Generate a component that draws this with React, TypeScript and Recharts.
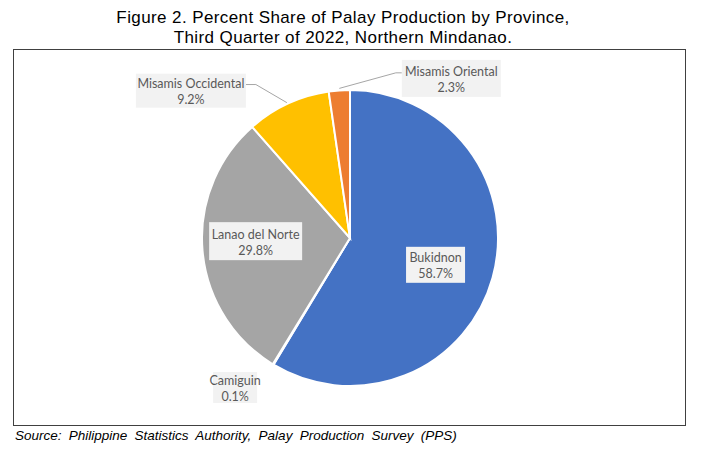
import React from "react";
import { PieChart, Pie, Cell } from "recharts";

const provinces = ["Bukidnon", "Camiguin", "Lanao del Norte", "Misamis Occidental", "Misamis Oriental"];
const shares = [58.7, 0.1, 29.8, 9.2, 2.3];
const sliceColors = ["#4472C4", "#ED7D31", "#A5A5A5", "#FFC000", "#ED7D31"];

const titleLines = [
  "Figure 2. Percent Share of Palay Production by Province,",
  "Third Quarter of 2022, Northern Mindanao.",
];
const sourceText = "Source: Philippine Statistics Authority, Palay Production Survey (PPS)";

const data = provinces.map((name, i) => ({ name, value: shares[i] }));

const RADIAN = Math.PI / 180;

// label placement: k = radial fraction, dx/dy offset, w/h box size, leader side
const placement = [
  { k: 0.6, dx: 0, dy: 3, w: 59, h: 36, leader: null },
  { k: 1.0, dx: -38, dy: 23, w: 44, h: 31, leader: null },
  { k: 0.64, dx: 0, dy: -5, w: 93, h: 38, leader: null },
  { k: 1.0, dx: -97, dy: -13, w: 110, h: 34, leader: "right" },
  { k: 1.0, dx: 112, dy: -12, w: 99, h: 37, leader: "left" },
];

const renderLabel = (props: any) => {
  const { cx, cy, midAngle, outerRadius, index } = props;
  const p = placement[index];
  const ex = cx + outerRadius * Math.cos(-midAngle * RADIAN);
  const ey = cy + outerRadius * Math.sin(-midAngle * RADIAN);
  const bx = cx + outerRadius * p.k * Math.cos(-midAngle * RADIAN) + p.dx;
  const by = cy + outerRadius * p.k * Math.sin(-midAngle * RADIAN) + p.dy;
  const left = bx - p.w / 2;
  const top = by - p.h / 2;
  let line = null;
  if (p.leader === "right") {
    const ly = top + p.h * 0.32;
    line = (
      <polyline
        points={`${left + p.w},${ly} ${left + p.w + 10},${ly} ${ex - 1},${ey - 1}`}
        fill="none"
        stroke="#A6A6A6"
        strokeWidth={1}
      />
    );
  } else if (p.leader === "left") {
    const ly = top + p.h * 0.35;
    line = (
      <polyline
        points={`${left},${ly} ${left - 6},${ly} ${ex},${ey - 2}`}
        fill="none"
        stroke="#A6A6A6"
        strokeWidth={1}
      />
    );
  }
  return (
    <g>
      {line}
      <rect x={left} y={top} width={p.w} height={p.h} fill="#F2F2F2" />
      <text
        x={bx}
        y={by - 7}
        textAnchor="middle"
        dominantBaseline="central"
        fill="#595959"
        style={{ fontFamily: "Lato, 'Noto Sans', sans-serif", fontSize: 12.5 }}
      >
        {provinces[index]}
      </text>
      <text
        x={bx}
        y={by + 9}
        textAnchor="middle"
        dominantBaseline="central"
        fill="#595959"
        style={{ fontFamily: "Lato, 'Noto Sans', sans-serif", fontSize: 12.5 }}
      >
        {shares[index].toFixed(1) + "%"}
      </text>
    </g>
  );
};

export default function App() {
  return (
    <div
      style={{
        position: "absolute",
        left: 0,
        top: 0,
        width: 702,
        height: 450,
        background: "#ffffff",
        fontFamily: "'Liberation Sans', Arial, sans-serif",
      }}
    >
      <div
        style={{
          position: "absolute",
          left: 0,
          top: 8,
          width: 686,
          textAlign: "center",
          fontSize: 17,
          letterSpacing: 0.4,
          lineHeight: "20px",
          color: "#000",
        }}
      >
        {titleLines.map((t, i) => (
          <div key={i}>{t}</div>
        ))}
      </div>
      <div
        style={{
          position: "absolute",
          left: 13,
          top: 49,
          width: 671,
          height: 375,
          border: "1.5px solid #404040",
        }}
      />
      <div style={{ position: "absolute", left: 0, top: 0 }}>
        <PieChart width={702} height={450} margin={{ top: 0, right: 0, bottom: 0, left: 0 }}>
          <Pie
            data={data}
            dataKey="value"
            nameKey="name"
            cx={350}
            cy={238}
            outerRadius={148}
            startAngle={90}
            endAngle={-270}
            stroke="#ffffff"
            strokeWidth={2}
            label={renderLabel}
            labelLine={false}
            isAnimationActive={false}
          >
            {data.map((d, i) => (
              <Cell key={d.name} fill={sliceColors[i]} />
            ))}
          </Pie>
        </PieChart>
      </div>
      <div
        style={{
          position: "absolute",
          left: 15,
          top: 428,
          fontSize: 13.5,
          wordSpacing: 3.5,
          fontStyle: "italic",
          color: "#000",
          whiteSpace: "nowrap",
        }}
      >
        {sourceText}
      </div>
    </div>
  );
}
